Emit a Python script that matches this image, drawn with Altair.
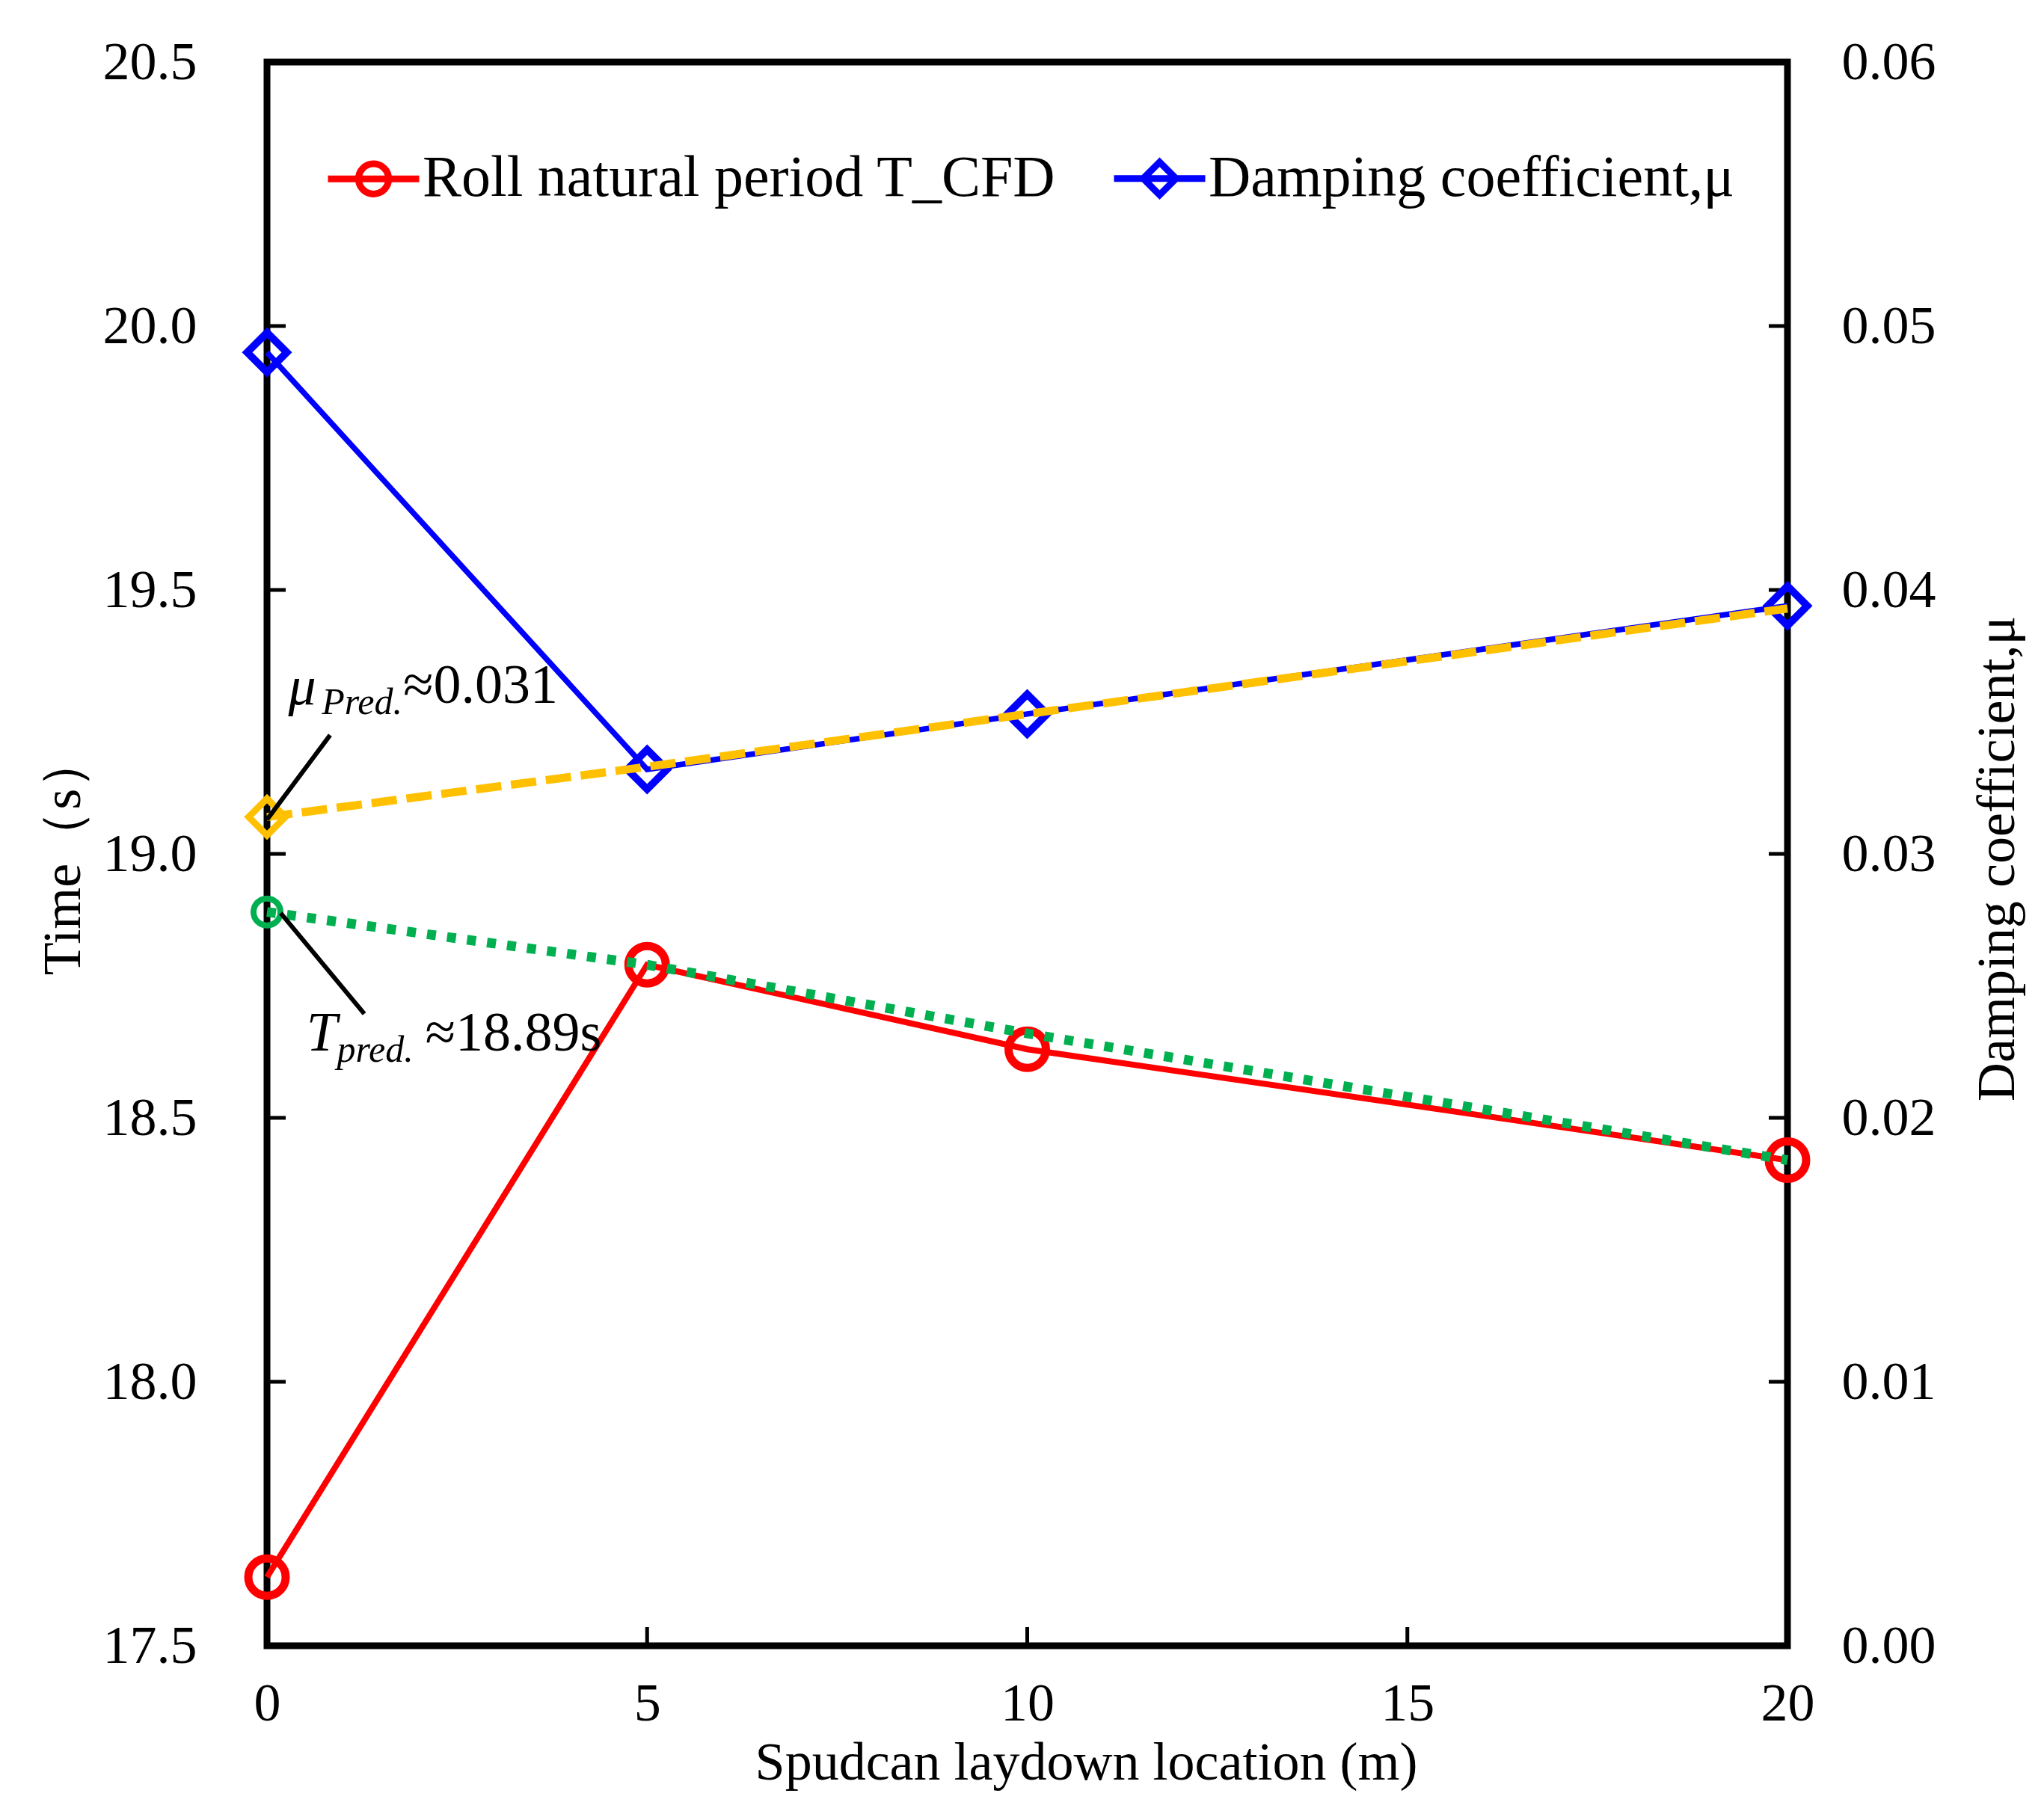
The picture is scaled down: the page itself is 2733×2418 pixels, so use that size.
import altair as alt
import pandas as pd

# spudcan laydown location (m)
location = [0, 5, 10, 20]
# roll natural period from CFD (s)
period_cfd = [17.63, 18.79, 18.63, 18.42]
# predicted roll period (s), dotted green
period_pred = [18.89, 18.79, 18.66, 18.42]
# damping coefficient from CFD
damping_cfd = [0.0490, 0.0332, 0.0353, 0.0394]
# predicted damping coefficient, dashed yellow
damping_pred = [0.0314, 0.0333, 0.0353, 0.0393]

series_names = ["Roll natural period T_CFD", "Damping coefficient,μ"]
series_colors = ["#FF0000", "#0000FF"]

time_ticks = [17.5, 18.0, 18.5, 19.0, 19.5, 20.0, 20.5]
damp_ticks = [0.0, 0.01, 0.02, 0.03, 0.04, 0.05, 0.06]
x_ticks = [0, 5, 10, 15, 20]

W = 2033
H = 2118
FONT = "Liberation Serif"

df = pd.DataFrame({
    'loc': location,
    'period_cfd': period_cfd,
    'period_pred': period_pred,
    'damping_cfd': damping_cfd,
    'damping_pred': damping_pred,
})

x_axis = alt.Axis(values=x_ticks, format='d', orient='bottom', labelPadding=42,
                  labelFlush=False, titleX=1095, titleY=178, titleAlign='center',
                  titleBaseline='alphabetic')
left_axis = alt.Axis(values=time_ticks, format='.1f', orient='left', labelPadding=94,
                     titleX=-273, titleY=1060, titleAngle=-90, titleAlign='center',
                     titleBaseline='middle')
right_axis = alt.Axis(values=damp_ticks, format='.2f', orient='right', labelPadding=72,
                      labelAlign='left', titleX=280, titleY=1065, titleAngle=-90,
                      titleAlign='center', titleBaseline='middle')


def xenc(f):
    return alt.X(f, type='quantitative', scale=alt.Scale(domain=[0, 20], nice=False),
                 axis=x_axis, title='Spudcan laydown location (m)')


def yL(f):
    return alt.Y(f, type='quantitative',
                 scale=alt.Scale(domain=[17.5, 20.5], nice=False, zero=False),
                 axis=left_axis, title='Time（s）')


def yR(f):
    return alt.Y(f, type='quantitative',
                 scale=alt.Scale(domain=[0, 0.06], nice=False, zero=False),
                 axis=right_axis, title='Damping coefficient,μ')


base = alt.Chart(df)

# left scale: roll period
red_line = base.mark_line(color='#FF0000', strokeWidth=8).encode(x=xenc('loc'), y=yL('period_cfd'))
red_pts = base.mark_point(shape='circle', filled=False, size=2500, strokeWidth=11,
                          color='#FF0000', opacity=1).encode(x=xenc('loc'), y=yL('period_cfd'))
green_line = base.mark_line(color='#00B050', strokeWidth=13, strokeDash=[12, 15],
                            strokeCap='butt').encode(x=xenc('loc'), y=yL('period_pred'))
green_pt = base.mark_point(shape='circle', filled=False, size=1300, strokeWidth=8,
                           color='#00B050', opacity=1).encode(
    x=xenc('loc'), y=yL('period_pred')).transform_filter('datum.loc == 0')

t_lead = alt.Chart(pd.DataFrame({'x': [0.18], 'x2': [1.28], 'y': [18.888], 'y2': [18.697]})).mark_rule(
    color='black', strokeWidth=6).encode(x=xenc('x'), x2='x2', y=yL('y'), y2='y2')
t_main = alt.Chart(pd.DataFrame({'x': [0.52], 'y': [18.627], 't': ['T']})).mark_text(
    font=FONT, fontStyle='italic', fontSize=74, align='left', baseline='alphabetic',
    color='black').encode(x=xenc('x'), y=yL('y'), text='t')
t_sub = alt.Chart(pd.DataFrame({'x': [0.92], 'y': [18.606], 't': ['pred.']})).mark_text(
    font=FONT, fontStyle='italic', fontSize=50, align='left', baseline='alphabetic',
    color='black').encode(x=xenc('x'), y=yL('y'), text='t')
t_val = alt.Chart(pd.DataFrame({'x': [2.08], 'y': [18.627], 't': ['≈18.89s']})).mark_text(
    font=FONT, fontSize=74, align='left', baseline='alphabetic',
    color='black').encode(x=xenc('x'), y=yL('y'), text='t')

left_ticks = alt.Chart(pd.DataFrame({'v': time_ticks[1:-1]})).mark_rule(
    color='black', strokeWidth=5).encode(y=yL('v'), x=alt.value(0), x2=alt.value(25))
bottom_ticks = alt.Chart(pd.DataFrame({'v': x_ticks[1:-1]})).mark_rule(
    color='black', strokeWidth=5).encode(x=xenc('v'), y=alt.value(H - 25), y2=alt.value(H))

left_group = alt.layer(left_ticks, bottom_ticks, red_line, red_pts, green_line, green_pt,
                       t_lead, t_main, t_sub, t_val)

# right scale: damping
blue_line = base.mark_line(color='#0000FF', strokeWidth=7.5).encode(x=xenc('loc'), y=yR('damping_cfd'))
blue_pts = base.mark_point(shape='diamond', filled=False, size=2800, strokeWidth=10,
                           color='#0000FF', opacity=1).encode(x=xenc('loc'), y=yR('damping_cfd'))
yellow_line = base.mark_line(color='#FFC000', strokeWidth=11, strokeDash=[34, 13],
                             strokeCap='butt').encode(x=xenc('loc'), y=yR('damping_pred'))
yellow_pt = base.mark_point(shape='diamond', filled=False, size=2400, strokeWidth=9,
                            color='#FFC000', opacity=1).encode(
    x=xenc('loc'), y=yR('damping_pred')).transform_filter('datum.loc == 0')

mu_lead = alt.Chart(pd.DataFrame({'x': [0.0], 'x2': [0.83], 'y': [0.0313], 'y2': [0.0345]})).mark_rule(
    color='black', strokeWidth=6).encode(x=xenc('x'), x2='x2', y=yR('y'), y2='y2')
mu_main = alt.Chart(pd.DataFrame({'x': [0.28], 'y': [0.03567], 't': ['μ']})).mark_text(
    font=FONT, fontStyle='italic', fontSize=74, align='left', baseline='alphabetic',
    color='black').encode(x=xenc('x'), y=yR('y'), text='t')
mu_sub = alt.Chart(pd.DataFrame({'x': [0.72], 'y': [0.0353], 't': ['Pred.']})).mark_text(
    font=FONT, fontStyle='italic', fontSize=50, align='left', baseline='alphabetic',
    color='black').encode(x=xenc('x'), y=yR('y'), text='t')
mu_val = alt.Chart(pd.DataFrame({'x': [1.79], 'y': [0.03572], 't': ['≈0.031']})).mark_text(
    font=FONT, fontSize=74, align='left', baseline='alphabetic',
    color='black').encode(x=xenc('x'), y=yR('y'), text='t')

right_ticks = alt.Chart(pd.DataFrame({'v': damp_ticks[1:-1]})).mark_rule(
    color='black', strokeWidth=5).encode(y=yR('v'), x=alt.value(W - 25), x2=alt.value(W))

# legend symbols: line with open marker
circle_key = "M-1,0L1,0M-0.33,0A0.33,0.33,0,1,0,0.33,0A0.33,0.33,0,1,0,-0.33,0"
diamond_key = "M-1,0L1,0M-0.36,0L0,-0.36L0.36,0L0,0.36Z"
legend = alt.Legend(orient='none', legendX=77, legendY=90, direction='horizontal',
                    title=None, labelFontSize=78, labelFont=FONT, labelColor='black',
                    labelLimit=3000, symbolSize=14884, symbolStrokeWidth=9,
                    symbolOpacity=1, columnPadding=58, labelOffset=0,
                    symbolFillColor='transparent')
key_layer = alt.Chart(pd.DataFrame({'series': series_names})).mark_point(
    filled=False, opacity=0).encode(
    color=alt.Color('series:N', scale=alt.Scale(domain=series_names, range=series_colors),
                    legend=legend),
    shape=alt.Shape('series:N', scale=alt.Scale(domain=series_names,
                                                range=[circle_key, diamond_key]),
                    legend=legend),
)

right_group = alt.layer(right_ticks, blue_line, blue_pts, yellow_line, yellow_pt,
                        mu_lead, mu_main, mu_sub, mu_val, key_layer)

chart = alt.layer(left_group, right_group).resolve_scale(
    y='independent'
).properties(
    width=W,
    height=H,
    padding={'left': 349, 'top': 75, 'right': 334, 'bottom': 208},
    autosize=alt.AutoSizeParams(type='none'),
).configure(
    font=FONT,
).configure_view(
    stroke='black',
    strokeWidth=9,
).configure_axis(
    grid=False,
    ticks=False,
    domain=False,
    labelFont=FONT,
    labelFontSize=72,
    labelColor='black',
    labelOverlap=False,
    titleFont=FONT,
    titleFontSize=72,
    titleFontWeight='normal',
    titleColor='black',
)

chart.save("out.html", embed_options={"renderer": "svg", "actions": False})
